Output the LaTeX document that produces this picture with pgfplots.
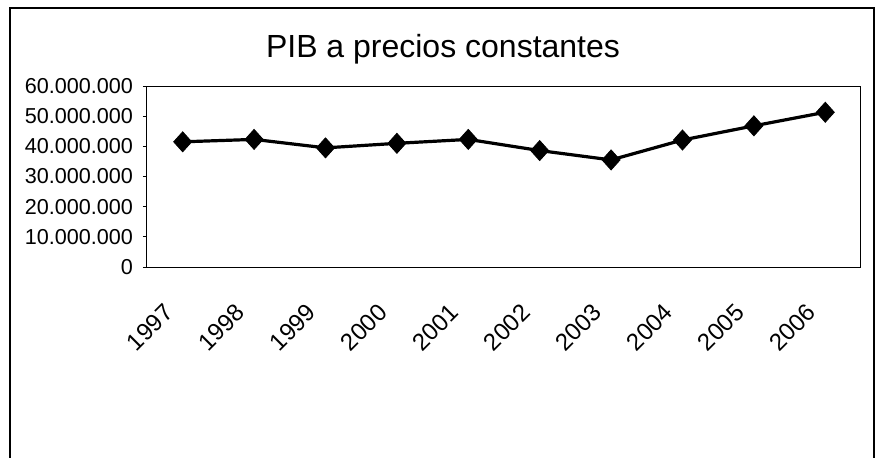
\documentclass[border=0pt]{standalone}
\usepackage{fontspec}
\setmainfont{Liberation Sans}
\usepackage{pgfplots}
\pgfplotsset{compat=1.18}

\begin{document}
\begin{tikzpicture}
\useasboundingbox (0,0) rectangle (440pt,-228.5pt);
% outer chart frame and title, in pixel units of the reference
\begin{scope}[x=0.5pt,y=-0.5pt]
  \draw[line width=1pt] (10,480) -- (10,8) -- (874,8) -- (874,480);
  \node[anchor=base, inner sep=0pt, font=\fontsize{16}{18}\selectfont] at (443,57) {PIB a precios constantes};
\end{scope}
\begin{axis}[
    at={(73.5pt,-133.5pt)}, anchor=south west,
    scale only axis, width=357pt, height=90.5pt,
    xmin=-0.5, xmax=9.5, ymin=0, ymax=60000000,
    xtick={0,...,9},
    xticklabels={1997,1998,1999,2000,2001,2002,2003,2004,2005,2006},
    ytick={0,10000000,20000000,30000000,40000000,50000000,60000000},
    scaled y ticks=false,
    yticklabel style={xshift=-1.5pt, font=\fontsize{10.8}{12}\selectfont,
                      /pgf/number format/.cd, fixed, 1000 sep={.}, assume math mode=true},
    xticklabel style={font=\fontsize{12}{14}\selectfont, anchor=north east,
                      xshift=-10pt, yshift=-14pt, rotate=45, inner sep=1pt},
    axis line style={black, line width=0.5pt},
    x tick style={draw=none},
    y tick style={black, line width=0.4pt},
    ytick pos=left, tick align=outside, major tick length=2pt,
    clip=false,
]
\addplot[black, line width=1.6pt, mark=diamond*, mark size=5pt,
         mark options={xscale=1.2, line width=0.4pt}] coordinates {
    (0, 41500000)
    (1, 42300000)
    (2, 39500000)
    (3, 41000000)
    (4, 42300000)
    (5, 38600000)
    (6, 35500000)
    (7, 42100000)
    (8, 46800000)
    (9, 51300000)
};
\end{axis}
\end{tikzpicture}
\end{document}
